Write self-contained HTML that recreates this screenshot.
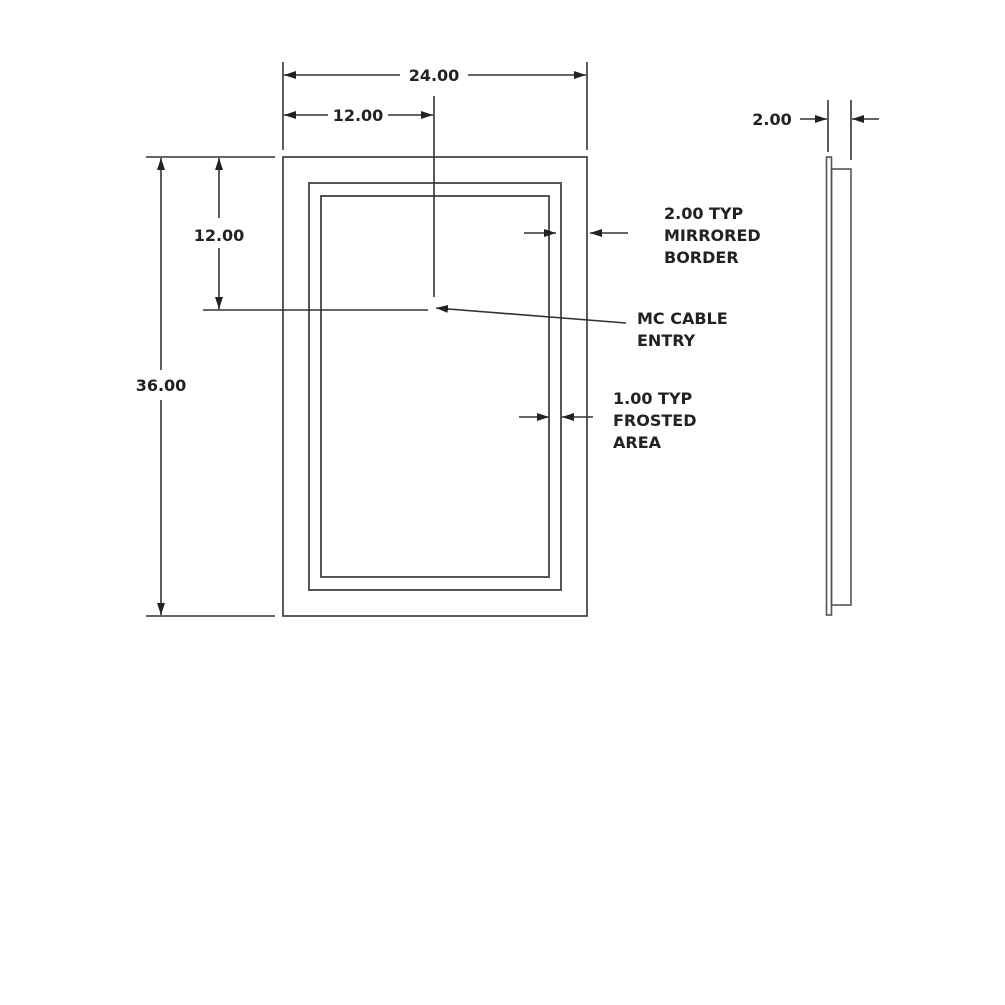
<!DOCTYPE html>
<html><head><style>body{margin:0;background:#fff}svg{display:block}text{font-family:"DejaVu Sans","Liberation Sans",sans-serif;font-weight:bold;font-size:16px;fill:#222}</style></head>
<body>
<svg width="1005" height="1005" viewBox="0 0 1005 1005" xmlns="http://www.w3.org/2000/svg">
<defs>
<marker id="a" markerWidth="12" markerHeight="8" refX="12" refY="4" orient="auto" markerUnits="userSpaceOnUse"><path d="M0,0 L12,4 L0,8 z" fill="#222"/></marker>
</defs>
<g stroke="#333" fill="none" stroke-width="1.6">
<rect x="283" y="157" width="304" height="459"/>
<rect x="309" y="183" width="252" height="407" stroke="#555" stroke-width="2"/>
<rect x="321" y="196" width="228" height="381" stroke="#555" stroke-width="2"/>
<line x1="283" y1="62" x2="283" y2="150"/>
<line x1="587" y1="62" x2="587" y2="150"/>
<line x1="146" y1="157" x2="275" y2="157"/>
<line x1="146" y1="616" x2="275" y2="616"/>
<line x1="434" y1="96" x2="434" y2="297"/>
<line x1="203" y1="310" x2="428" y2="310"/>
<line x1="400" y1="75" x2="284" y2="75" marker-end="url(#a)"/>
<line x1="468" y1="75" x2="586" y2="75" marker-end="url(#a)"/>
<line x1="328" y1="115" x2="284" y2="115" marker-end="url(#a)"/>
<line x1="388" y1="115" x2="433" y2="115" marker-end="url(#a)"/>
<line x1="161" y1="370" x2="161" y2="158" marker-end="url(#a)"/>
<line x1="161" y1="400" x2="161" y2="615" marker-end="url(#a)"/>
<line x1="219" y1="218" x2="219" y2="158" marker-end="url(#a)"/>
<line x1="219" y1="248" x2="219" y2="309" marker-end="url(#a)"/>
<line x1="524" y1="233" x2="556" y2="233" marker-end="url(#a)"/>
<line x1="628" y1="233" x2="590" y2="233" marker-end="url(#a)"/>
<line x1="626" y1="323" x2="436" y2="308" marker-end="url(#a)"/>
<line x1="519" y1="417" x2="549" y2="417" marker-end="url(#a)"/>
<line x1="593" y1="417" x2="562" y2="417" marker-end="url(#a)"/>
<rect x="826.5" y="157" width="5" height="458" stroke="#555"/>
<rect x="831.5" y="169" width="19.5" height="436" stroke="#555"/>
<line x1="828" y1="100" x2="828" y2="152"/>
<line x1="851" y1="100" x2="851" y2="160"/>
<line x1="800" y1="119" x2="827" y2="119" marker-end="url(#a)"/>
<line x1="879" y1="119" x2="852" y2="119" marker-end="url(#a)"/>
</g>
<text x="434" y="81" text-anchor="middle">24.00</text>
<text x="358" y="121" text-anchor="middle">12.00</text>
<text x="219" y="241" text-anchor="middle">12.00</text>
<text x="161" y="391" text-anchor="middle">36.00</text>
<text x="772" y="125" text-anchor="middle">2.00</text>
<text x="664" y="219">2.00 TYP</text>
<text x="664" y="241">MIRRORED</text>
<text x="664" y="263">BORDER</text>
<text x="637" y="324">MC CABLE</text>
<text x="637" y="346">ENTRY</text>
<text x="613" y="404">1.00 TYP</text>
<text x="613" y="426">FROSTED</text>
<text x="613" y="448">AREA</text>
</svg>
</body></html>
